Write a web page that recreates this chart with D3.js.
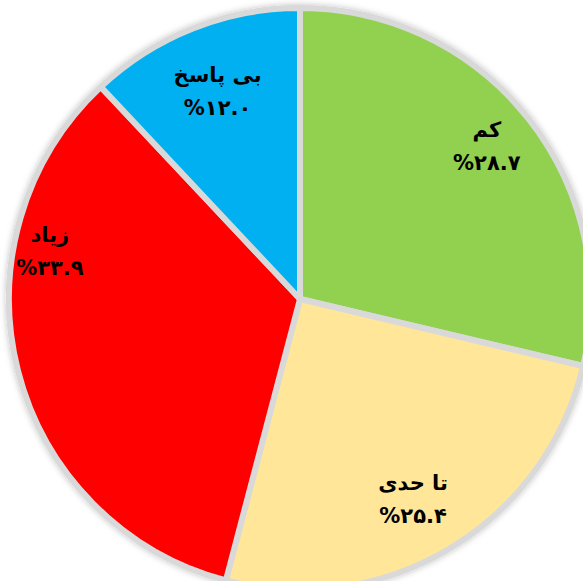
<!DOCTYPE html>
<html>
<head>
<meta charset="utf-8">
<script src="https://cdn.jsdelivr.net/npm/d3@7"></script>
<style>
  body { margin: 0; background: #fff; }
</style>
</head>
<body>
<script>
// Width og height
const w = 583;
const h = 581;

// data, clockwise from 12 o'clock
const categories = ["کم", "تا حدی", "زیاد", "بی پاسخ"];
const values = [28.7, 25.4, 33.9, 12.0];
const valueLabels = ["%۲۸.۷", "%۲۵.۴", "%۳۳.۹", "%۱۲.۰"];
const colors = ["#92D050", "#FFE699", "#FF0000", "#00B0F0"];

// label placement: fraction of radius and angle shift (degrees) from slice middle
const labelPos = [0.83, 0.79, 0.875, 0.77];
const labelShift = [-1, 1.5, 25, 0];

const cx = 300;
const cy = 299;
const r = 291;

const svg = d3.select("body").append("svg").attr("width", w).attr("height", h);

const defs = svg.append("defs");
defs.append("filter")
  .attr("id", "shadow")
  .attr("x", "-10%").attr("y", "-10%")
  .attr("width", "120%").attr("height", "120%")
  .append("feDropShadow")
  .attr("dx", 0).attr("dy", 0)
  .attr("stdDeviation", 3)
  .attr("flood-color", "#000")
  .attr("flood-opacity", 0.25);

const pie = d3.pie().sort(null).value(function (d) { return d; });
const arcs = pie(values);

const arc = d3.arc().innerRadius(0).outerRadius(r);

const g = svg.append("g").attr("transform", "translate(" + cx + "," + cy + ")");

g.append("g")
  .attr("filter", "url(#shadow)")
  .selectAll("path")
  .data(arcs)
  .enter()
  .append("path")
  .attr("d", arc)
  .attr("fill", function (d, i) { return colors[i]; })
  .attr("stroke", "#D9D9D9")
  .attr("stroke-width", 6)
  .attr("stroke-linejoin", "round");

// labels
const labels = g.selectAll("g.label")
  .data(arcs)
  .enter()
  .append("g")
  .attr("class", "label")
  .attr("transform", function (d, i) {
    const a = (d.startAngle + d.endAngle) / 2 + labelShift[i] * Math.PI / 180;
    const rr = r * labelPos[i];
    return "translate(" + (rr * Math.sin(a)) + "," + (-rr * Math.cos(a)) + ")";
  })
  .attr("font-family", "'DejaVu Sans', sans-serif")
  .attr("font-weight", "bold")
  .attr("font-size", "21px")
  .attr("fill", "#000")
  .attr("text-anchor", "middle");

labels.append("text")
  .attr("y", -9)
  .text(function (d, i) { return categories[i]; });

labels.append("text")
  .attr("y", 24)
  .text(function (d, i) { return valueLabels[i]; });
</script>
</body>
</html>
